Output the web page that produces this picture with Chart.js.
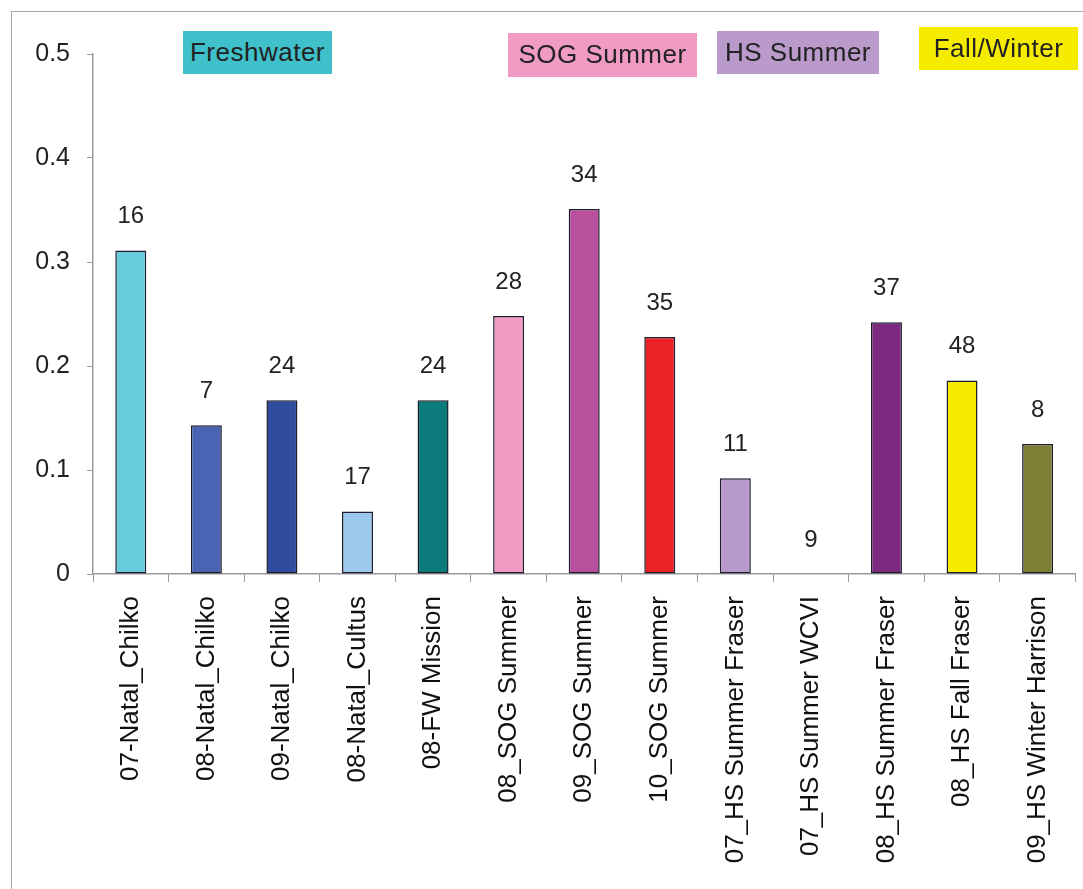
<!DOCTYPE html>
<html>
<head>
<meta charset="utf-8">
<script src="https://cdn.jsdelivr.net/npm/chart.js@4"></script>
<style>
  html, body { margin: 0; padding: 0; background: #fff; }
  #wrap { position: relative; width: 1083px; height: 889px; overflow: hidden; }
  #frame { position: absolute; left: 11px; top: 11px; width: 1075px; height: 900px;
    border: 1.5px solid #a8a8a8; box-sizing: border-box; }
  .tag { position: absolute; font-family: "Liberation Sans", Arial, sans-serif; font-size: 26px;
    color: #222; line-height: 43px; text-align: center; letter-spacing: 0.5px; }
  canvas { position: absolute; left: 0; top: 0; }
</style>
</head>
<body>
<div id="wrap">
  <div id="frame"></div>
  <canvas id="chart" width="1083" height="889"></canvas>
  <div class="tag" style="left:183px;top:31px;width:149px;height:43px;background:#40c0ca;">Freshwater</div>
  <div class="tag" style="left:508px;top:33px;width:189px;height:44px;background:#f09bc4;">SOG Summer</div>
  <div class="tag" style="left:717px;top:31px;width:162px;height:43px;background:#b99acb;">HS Summer</div>
  <div class="tag" style="left:919px;top:27px;width:159px;height:43px;background:#f6ec00;">Fall/Winter</div>
</div>
<script>
// 样本组
const groups = ['07-Natal_Chilko', '08-Natal_Chilko', '09-Natal_Chilko', '08-Natal_Cultus', '08-FW Mission',
  '08_SOG Summer', '09_SOG Summer', '10_SOG Summer', '07_HS Summer Fraser', '07_HS Summer WCVI',
  '08_HS Summer Fraser', '08_HS Fall Fraser', '09_HS Winter Harrison'];
const values = [0.311, 0.143, 0.167, 0.060, 0.167, 0.248, 0.351, 0.228, 0.092, 0, 0.242, 0.186, 0.125];
const sampleSizes = [16, 7, 24, 17, 24, 28, 34, 35, 11, 9, 37, 48, 8];
const barColors = ['#66cbdb', '#4864b2', '#2f4c9f', '#9ccaef', '#0b7c7b', '#f19ac3', '#b8509e', '#ec2125',
  '#b79acb', '#ffffff', '#7b2a80', '#f6ec00', '#7e7f34'];
const yTicks = [0, 0.1, 0.2, 0.3, 0.4, 0.5];

const FONT = '"Liberation Sans", Arial, sans-serif';

// 柱顶的样本数
const countLabels = {
  id: 'countLabels',
  afterDatasetsDraw(chart) {
    const ctx = chart.ctx;
    const meta = chart.getDatasetMeta(0);
    ctx.save();
    ctx.font = '24px ' + FONT;
    ctx.fillStyle = '#222';
    ctx.textAlign = 'center';
    ctx.textBaseline = 'middle';
    meta.data.forEach((bar, i) => {
      ctx.fillText(String(sampleSizes[i]), bar.x, bar.y - 34);
    });
    ctx.restore();
  }
};

const ctx = document.getElementById('chart').getContext('2d');
new Chart(ctx, {
  type: 'bar',
  data: {
    labels: groups,
    datasets: [{
      data: values,
      backgroundColor: barColors,
      borderColor: values.map(v => v > 0 ? '#1c1c2c' : 'rgba(0,0,0,0)'),
      borderWidth: 1.5,
      borderSkipped: false,
      barPercentage: 0.41,
      categoryPercentage: 1
    }]
  },
  options: {
    responsive: false,
    animation: false,
    layout: { padding: { top: 54, right: 5, left: 0, bottom: 0 } },
    plugins: { legend: { display: false }, tooltip: { enabled: false } },
    scales: {
      x: {
        grid: { drawOnChartArea: false, drawTicks: true, tickLength: 8, color: '#999', offset: true },
        border: { display: true, color: '#999', width: 1.5 },
        ticks: { font: { family: FONT, size: 26 }, color: '#111', minRotation: 90, maxRotation: 90, padding: 14, autoSkip: false },
        afterFit(scale) { scale.height = 889 - 574; }
      },
      y: {
        min: 0,
        max: 0.5,
        afterBuildTicks(scale) { scale.ticks = yTicks.map(v => ({ value: v })); },
        grid: { drawOnChartArea: false, drawTicks: true, tickLength: 6, color: '#999' },
        border: { display: true, color: '#999', width: 1.5 },
        ticks: { font: { family: FONT, size: 25 }, color: '#222', padding: 17,
          callback: v => v === 0 ? '0' : v.toFixed(1) },
        afterFit(scale) { scale.width = 93; }
      }
    }
  },
  plugins: [countLabels]
});
</script>
</body>
</html>
